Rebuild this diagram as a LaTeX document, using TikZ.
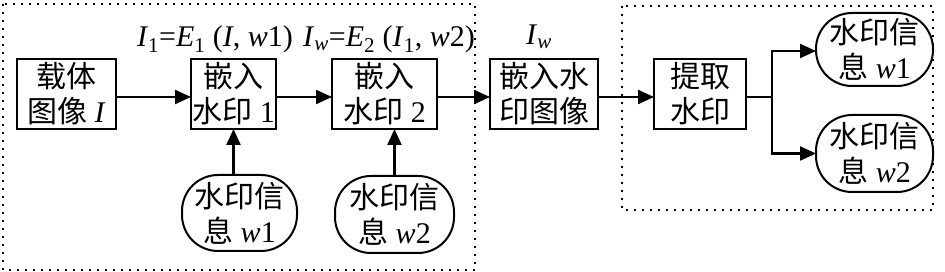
\documentclass[tikz,border=0pt]{standalone}
\usepackage{fontspec}
\setmainfont{Liberation Serif}
\newfontfamily\cjk{Noto Sans CJK SC}
\usetikzlibrary{arrows.meta}
\begin{document}
\begin{tikzpicture}[x=1pt,y=-1pt,
  every node/.style={inner sep=0pt, outer sep=0pt},
  txt/.style={font=\fontsize{30}{35}\selectfont, align=center},
  box/.style={txt, draw, line width=2.2pt},
  oval/.style={txt, draw, line width=2pt, rounded corners=36pt},
  lab/.style={font=\fontsize{30}{36}\selectfont, anchor=base},
  arr/.style={line width=2.2pt, -{Triangle[length=16pt,width=14pt]}},
  ln/.style={line width=2.2pt},
  dotbox/.style={line width=2pt, dash pattern=on 2pt off 6pt}
]
\useasboundingbox (0,0) rectangle (945,272);
% dotted frames
\draw[dotbox] (3,4) rectangle (475,270);
\draw[dotbox] (622,6) rectangle (933,210);
% boxes
\node[box, minimum width=99pt, minimum height=70pt] (src) at (66.5,94) {{\cjk 载体}\\{\cjk 图像} \textit{I}};
\node[box, minimum width=85pt, minimum height=70pt] (e1) at (233.5,94) {{\cjk 嵌入}\\{\cjk 水印} 1};
\node[box, minimum width=105pt, minimum height=70pt] (e2) at (384.5,94) {{\cjk 嵌入}\\{\cjk 水印} 2};
\node[box, minimum width=108pt, minimum height=70pt] (wm) at (544,94) {{\cjk 嵌入水}\\{\cjk 印图像}};
\node[box, minimum width=92pt, minimum height=70pt] (ex) at (700,94) {{\cjk 提取}\\{\cjk 水印}};
% ovals
\node[oval, minimum width=115pt, minimum height=76pt] (ell1) at (239.5,213) {{\cjk 水印信}\\{\cjk 息} \textit{w}1};
\node[oval, minimum width=119pt, minimum height=77pt] (ell2) at (394.5,214.5) {{\cjk 水印信}\\{\cjk 息} \textit{w}2};
\node[oval, minimum width=117pt, minimum height=73pt] (o1) at (874.5,49.5) {{\cjk 水印信}\\{\cjk 息} \textit{w}1};
\node[oval, minimum width=117pt, minimum height=77pt] (o2) at (874.5,153.5) {{\cjk 水印信}\\{\cjk 息} \textit{w}2};
% labels
\node[lab] (lab1) at (215,47) {\textit{I}\textsubscript{1}=\textit{E}\textsubscript{1} (\textit{I}, \textit{w}1)};
\node[lab] (lab2) at (389,47) {\textit{I}\textsubscript{\textit{w}}=\textit{E}\textsubscript{2} (\textit{I}\textsubscript{1}, \textit{w}2)};
\node[lab] (lab3) at (539,45) {\textit{I}\textsubscript{\textit{w}}};
% connectors
\draw[arr] ([yshift=-3pt]src.east) -- ([yshift=-3pt]e1.west);
\draw[arr] ([yshift=-3pt]e1.east) -- ([yshift=-3pt]e2.west);
\draw[arr] ([yshift=-3pt]e2.east) -- ([yshift=-3pt]wm.west);
\draw[arr] ([yshift=-3pt]wm.east) -- ([yshift=-3pt]ex.west);
\coordinate (j) at (772,97);
\draw[ln] ([yshift=-3pt]ex.east) -- (j);
\draw[arr] (j) |- ([yshift=-1.5pt]o1.west);
\draw[arr] (j) |- (o2.west);
\draw[arr] (ell1.north -| e1.south) -- (e1.south);
\draw[arr] (ell2.north) -- (ell2.north |- e2.south);
\end{tikzpicture}
\end{document}
